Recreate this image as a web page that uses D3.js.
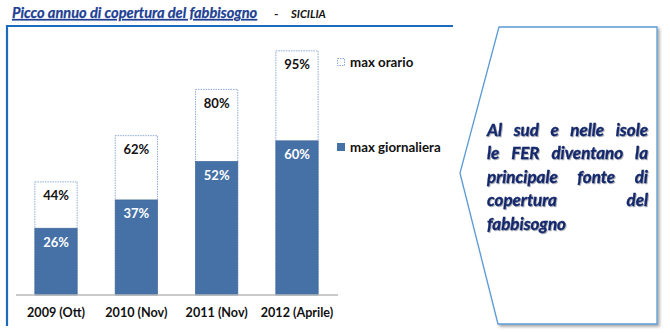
<!DOCTYPE html>
<html><head><meta charset="utf-8">
<script src="https://cdn.jsdelivr.net/npm/d3@7"></script>
<style>
html,body{margin:0;padding:0;background:#fff;}
svg{display:block;}
</style></head>
<body>
<svg id="chart" width="670" height="334"></svg>
<script>
const categories = ["2009 (Ott)", "2010 (Nov)", "2011 (Nov)", "2012 (Aprile)"];
const maxOrario = [44, 62, 80, 95];
const maxGiornaliera = [26, 37, 52, 60];
const seriesNames = ["max orario", "max giornaliera"];
const titleText = "Picco annuo di copertura del fabbisogno";
const regionText = "SICILIA";
const calloutLines = [
  ["Al","sud","e","nelle","isole"],
  ["le","FER","diventano","la"],
  ["principale","fonte","di"],
  ["copertura","del"],
  ["fabbisogno"]
];

const svg = d3.select("#chart");
const FONT = "Lato, 'Open Sans', sans-serif";
const barBlue = "#4571a7";
const frameBlue = "#1d6bbd";

const defs = svg.append("defs");
const sh = defs.append("filter").attr("id","shadow").attr("x","-10%").attr("y","-10%").attr("width","130%").attr("height","130%");
sh.append("feDropShadow").attr("dx",2).attr("dy",2).attr("stdDeviation",1.5).attr("flood-color","#000").attr("flood-opacity",0.35);
const tsh = defs.append("filter").attr("id","tshadow");
tsh.append("feDropShadow").attr("dx",1).attr("dy",1).attr("stdDeviation",0.6).attr("flood-color","#000").attr("flood-opacity",0.3);

// title
svg.append("text").attr("x",12).attr("y",18)
  .attr("font-family",FONT).attr("font-weight","bold").attr("font-style","italic")
  .attr("font-size",14.6).attr("fill","#213f93").attr("text-decoration","underline")
  .attr("stroke","#213f93").attr("stroke-width",0.25)
  .text(titleText);
svg.append("text").attr("x",274).attr("y",18).attr("font-family",FONT).attr("font-weight","bold")
  .attr("font-size",12).attr("fill","#222").text("-");
svg.append("text").attr("x",291).attr("y",18).attr("font-family",FONT).attr("font-weight","bold")
  .attr("font-style","italic").attr("font-size",11.2).attr("fill","#111").text(regionText);

// frame lines
svg.append("path").attr("d","M7,326 V26 H453").attr("fill","none")
  .attr("stroke",frameBlue).attr("stroke-width",2.2);

// scales
const x = d3.scaleBand().domain(categories).range([15,338]).paddingInner(0.474).paddingOuter(0.2475);
const y = d3.scaleLinear().domain([0,100]).range([295,38]);

const g = svg.append("g");
// hourly (outer) bars
g.selectAll("rect.hour").data(categories).join("rect").attr("class","hour")
  .attr("x",d=>x(d)).attr("width",x.bandwidth())
  .attr("y",(d,i)=>y(maxOrario[i])).attr("height",(d,i)=>y(0)-y(maxOrario[i]))
  .attr("fill","#fff").attr("stroke","#8eabd6").attr("stroke-width",1).attr("stroke-dasharray","1.5,1");
// daily bars
g.selectAll("rect.day").data(categories).join("rect").attr("class","day")
  .attr("x",d=>x(d)).attr("width",x.bandwidth())
  .attr("y",(d,i)=>y(maxGiornaliera[i])).attr("height",(d,i)=>y(0)-y(maxGiornaliera[i]))
  .attr("fill",barBlue).attr("stroke","#3d6496").attr("stroke-width",0.6);

// labels
g.selectAll("text.hl").data(categories).join("text").attr("class","hl")
  .attr("x",d=>x(d)+x.bandwidth()/2).attr("y",(d,i)=>y(maxOrario[i])+18.5)
  .attr("text-anchor","middle").attr("font-family",FONT).attr("font-weight","bold")
  .attr("font-size",13).attr("fill","#111").text((d,i)=>maxOrario[i]+"%");
g.selectAll("text.dl").data(categories).join("text").attr("class","dl")
  .attr("x",d=>x(d)+x.bandwidth()/2).attr("y",(d,i)=>y(maxGiornaliera[i])+18.5)
  .attr("text-anchor","middle").attr("font-family",FONT).attr("font-weight","bold")
  .attr("font-size",13).attr("fill","#fff").text((d,i)=>maxGiornaliera[i]+"%");

// axis
const axis = svg.append("g").attr("transform",`translate(0,${y(0)})`).call(d3.axisBottom(x).tickSize(0).tickPadding(13));
axis.select(".domain").attr("stroke","#b9b9b9").attr("stroke-width",1.6).attr("d","M16,0H338");
axis.selectAll("text").attr("font-family",FONT).attr("font-weight","bold").attr("font-size",12.6).attr("fill","#111");

// legend
const leg = svg.append("g");
leg.append("rect").attr("x",337.5).attr("y",58.5).attr("width",7).attr("height",7)
  .attr("fill","#fff").attr("stroke","#8eabd6").attr("stroke-dasharray","1.5,1");
leg.append("text").attr("x",350).attr("y",66.5).attr("font-family",FONT).attr("font-weight","bold")
  .attr("font-size",13.3).attr("fill","#111").text(seriesNames[0]);
leg.append("rect").attr("x",337).attr("y",143).attr("width",8).attr("height",8).attr("fill",barBlue);
leg.append("text").attr("x",350).attr("y",151.5).attr("font-family",FONT).attr("font-weight","bold")
  .attr("font-size",13.3).attr("fill","#111").text(seriesNames[1]);

// callout
svg.append("path").attr("d","M499,27 H657 V324 H498 L460,173 Z")
  .attr("fill","#fff").attr("stroke","#5b9bd5").attr("stroke-width",1.3).attr("filter","url(#shadow)");

const tx0 = 487, tx1 = 648, ty0 = 136, lh = 23.4;
const ct = svg.append("g").attr("filter","url(#tshadow)");
calloutLines.forEach((words,li)=>{
  const yy = ty0 + li*lh;
  const nodes = words.map(w => ct.append("text").attr("y",yy).attr("font-family",FONT)
    .attr("font-weight","bold").attr("font-style","italic").attr("font-size",17)
    .attr("fill","#14286b").attr("stroke","#14286b").attr("stroke-width",0.35).text(w));
  const widths = nodes.map(n=>n.node().getComputedTextLength());
  const total = d3.sum(widths);
  const last = li === calloutLines.length-1;
  const gap = (last || words.length<2) ? 5 : (tx1-tx0-total)/(words.length-1);
  let cx = tx0;
  nodes.forEach((n,i)=>{ n.attr("x",cx); cx += widths[i]+gap; });
});
</script>
</body></html>
